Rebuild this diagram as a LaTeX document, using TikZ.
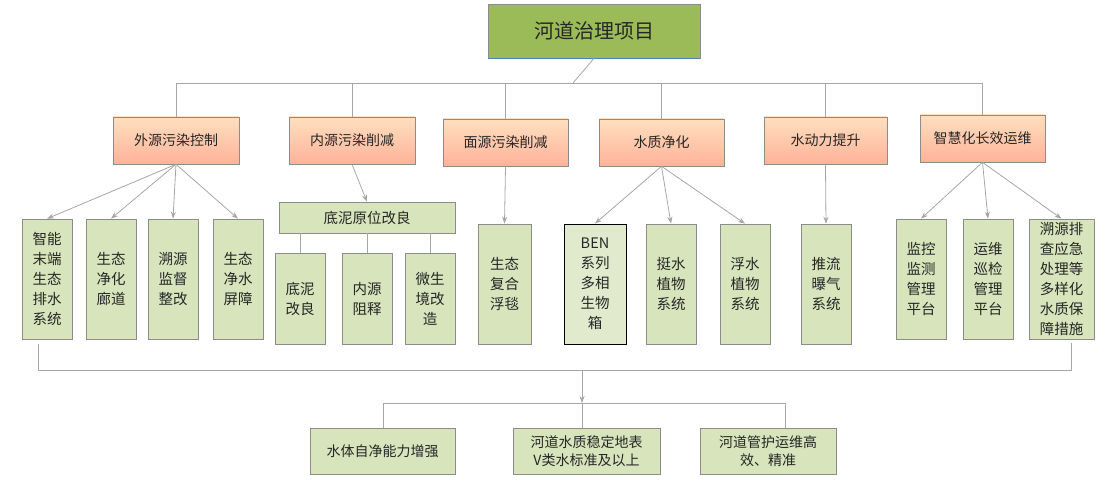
\documentclass[tikz,border=0pt]{standalone}
\usepackage{fontspec}
\setmainfont{Noto Sans CJK SC}
\usetikzlibrary{arrows.meta,shadows}
\newcommand{\bx}[7]{\node[#6,minimum width={(#4-#2)*1pt},minimum height={(#5-#3)*1pt}] (#1) at ({(#2+#4)/2},{(#3+#5)/2}) {#7};}
\begin{document}
\begin{tikzpicture}[x=1pt,y=-1pt,
 base/.style={draw=black!45,line width=0.6pt,inner sep=0pt,align=center,text=black!85,drop shadow={shadow xshift=1.2pt,shadow yshift=-1.2pt,opacity=0.25}},
 org/.style={base,top color=orange!25,bottom color=orange!50!red!40!white,font=\fontsize{14}{18}\selectfont},
 grn/.style={base,fill={rgb,255:red,216;green,228;blue,188},font=\fontsize{14.5}{20}\selectfont},
 ln/.style={draw=black!35,line width=0.8pt},
 ar/.style={ln,-{Stealth[length=7pt,width=5pt]}}]
\useasboundingbox (0,0) rectangle (1114,481);
\bx{t}{488}{4}{700}{58}{base,fill={rgb,255:red,155;green,187;blue,89},font=\fontsize{20}{24}\selectfont}{河道治理项目}
\draw[draw={rgb,255:red,79;green,129;blue,189},line width=1pt] (t.south west) -- (t.south east);
% orange
\bx{a}{113}{117}{239}{164}{org}{外源污染控制}
\bx{b}{289}{117}{415}{164}{org}{内源污染削减}
\bx{c}{443}{119}{568}{166}{org}{面源污染削减}
\bx{d}{599}{119}{724}{166}{org}{水质净化}
\bx{e}{764}{117}{887}{164}{org}{水动力提升}
\bx{f}{920}{115}{1045}{162}{org}{智慧化长效运维}
\coordinate (h) at (573,83);
\draw[ln] (t.south) -- (h);
\draw[ln] (a.north|-h) -- (f.north|-h);
\foreach \n in {a,b,c,d,e,f} \draw[ln] (\n.north|-h) -- (\n.north);
% level 3
\bx{a1}{22}{219}{72}{339}{grn}{智能\\末端\\生态\\排水\\系统}
\bx{a2}{86}{219}{136}{339}{grn}{生态\\净化\\廊道}
\bx{a3}{148}{219}{198}{339}{grn}{溯源\\监督\\整改}
\bx{a4}{213}{219}{263}{339}{grn}{生态\\净水\\屏障}
\bx{b0}{279}{202}{455}{233}{grn}{底泥原位改良}
\bx{b1}{275}{253}{325}{344}{grn}{底泥\\改良}
\bx{b2}{342}{253}{392}{344}{grn}{内源\\阻释}
\bx{b3}{405}{253}{455}{344}{grn}{微生\\境改\\造}
\bx{c1}{478}{224}{531}{344}{grn}{生态\\复合\\浮毯}
\bx{d1}{564}{224}{626}{344}{grn,draw=black,line width=0.8pt,fill={rgb,255:red,226;green,234;blue,206}}{BEN\\系列\\多相\\生物\\箱}
\bx{d2}{646}{224}{696}{344}{grn}{挺水\\植物\\系统}
\bx{d3}{720}{224}{770}{344}{grn}{浮水\\植物\\系统}
\bx{e1}{801}{224}{851}{344}{grn}{推流\\曝气\\系统}
\bx{f1}{896}{219}{946}{339}{grn}{监控\\监测\\管理\\平台}
\bx{f2}{963}{219}{1013}{339}{grn}{运维\\巡检\\管理\\平台}
\bx{f3}{1029}{219}{1094}{339}{grn}{溯源排\\查应急\\处理等\\多样化\\水质保\\障措施}
\foreach \m in {a1,a2,a3,a4} \draw[ar] (a.south) -- (\m.north);
\draw[ar] (b.south) -- (b0.north);
\foreach \m in {b1,b2,b3} \draw[ln] (\m.north|-b0.south) -- (\m.north);
\draw[ar] (c.south) -- (c1.north);
\foreach \m in {d1,d2,d3} \draw[ar] (d.south) -- (\m.north);
\draw[ar] (e.south) -- (e1.north);
\foreach \m in {f1,f2,f3} \draw[ar] (f.south) -- (\m.north);
% bottom
\coordinate (L) at (38,344);
\coordinate (R) at (1071,343);
\coordinate (m) at (582,370);
\coordinate (m2) at (582,403);
\draw[ln] (L) -- (38,370) -- (1071,370) -- (R);
\bx{g1}{310}{428}{455}{474}{grn,font=\fontsize{14}{18}\selectfont}{水体自净能力增强}
\bx{g2}{513}{428}{660}{474}{grn,font=\fontsize{14}{18}\selectfont}{河道水质稳定地表\\V类水标准及以上}
\bx{g3}{700}{428}{836}{474}{grn,font=\fontsize{14}{18}\selectfont}{河道管护运维高\\效、精准}
\draw[ar] (m) -- (m2);
\draw[ln] (383,403) -- (785,403);
\draw[ln] (383,403) -- (383,428);
\draw[ln] (m2) -- (582,428);
\draw[ln] (785,403) -- (785,428);
\end{tikzpicture}
\end{document}
